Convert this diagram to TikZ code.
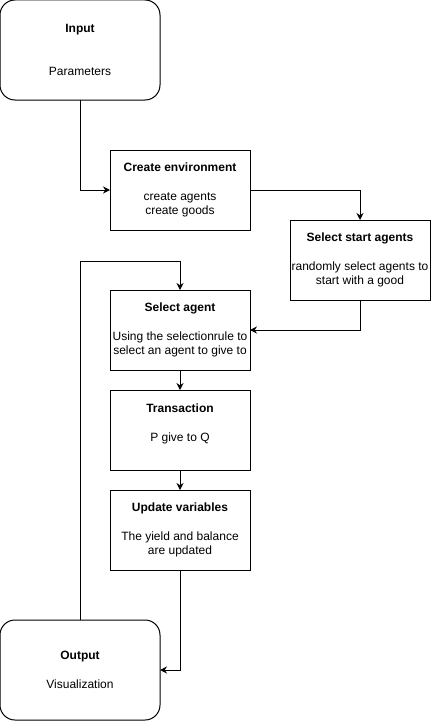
\documentclass[tikz,border=0pt]{standalone}
\usepackage{fontspec}
\setmainfont{Liberation Sans}
\usetikzlibrary{arrows.meta, positioning}

\begin{document}
\begin{tikzpicture}[
  x=1pt, y=-1pt,
  node distance=20pt,
  font=\fontsize{12}{14.5}\selectfont,
  box/.style={rectangle, draw=black, line width=1pt, fill=white, minimum width=140pt, minimum height=80pt, inner sep=0pt, outer sep=0pt, align=center},
  term/.style={box, rounded corners=15pt, minimum width=160pt, minimum height=100pt},
  arrow/.style={line width=1pt, -{Stealth[length=7pt, width=7pt]}}
]
\useasboundingbox (0,0) rectangle (432,725);

\node (input) [term] at (80,50) {\textbf{Input}\\[29pt]Parameters};
\node (createenv) [box] at (180,190) {\textbf{Create environment}\\[14.5pt]create agents\\create goods};
\node (selstart) [box] at (360,260) {\textbf{Select start agents}\\[14.5pt]randomly select agents to\\start with a good};
\node (selagent) [box] at (180,330) {\textbf{Select agent}\\[14.5pt]Using the selectionrule to\\select an agent to give to};
\node (transaction) [box, below=of selagent] {\textbf{Transaction}\\[14.5pt]P give to Q\\ \mbox{}};
\node (update) [box, below=of transaction] {\textbf{Update variables}\\[14.5pt]The yield and balance\\are updated};
\node (output) [term] at (80,670) {\textbf{Output}\\[14.5pt]Visualization};
\coordinate (loop) at (80,261);

\draw [arrow] (input.south) |- (createenv.west);
\draw [arrow] (createenv.east) -| (selstart.north);
\draw [arrow] (selstart.south) |- (selagent.east);
\draw [arrow] (selagent) -- (transaction);
\draw [arrow] (transaction) -- (update);
\draw [arrow] (update.south) |- (output.east);
\draw [arrow] (output.north) -- (loop) -| (selagent.north);

\end{tikzpicture}
\end{document}
